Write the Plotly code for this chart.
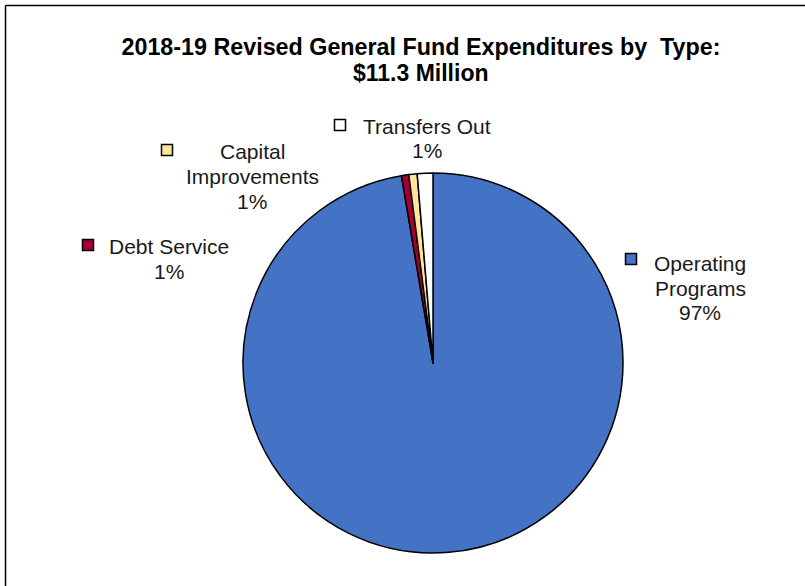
import plotly.graph_objects as go

# ---- dados (US$ milhões) ----
categories = ["Operating Programs", "Debt Service", "Capital Improvements", "Transfers Out"]
label_lines = [["Operating", "Programs"], ["Debt Service"], ["Capital", "Improvements"], ["Transfers Out"]]
amounts = [11.00, 0.07, 0.08, 0.15]
colors = ["#4472C4", "#A50034", "#FFE599", "#FFFFFF"]

TITLE_1 = "2018-19 Revised General Fund Expenditures by  Type:"
TITLE_2 = "$11.3 Million"

W, H = 805, 586
FONT = "Liberation Sans, Arial, sans-serif"
LINE_STEP = 24.5  # espaçamento entre linhas dos rótulos (px)

# posições dos rótulos em pixels: centro x do texto, centro y da 1a linha, centro da caixinha
label_pos = {
    "Operating Programs": (700, 263.5, 631, 259),
    "Debt Service": (169, 246.5, 88, 245),
    "Capital Improvements": (252, 152, 167, 150),
    "Transfers Out": (426.5, 126.5, 340, 125),
}


def px(x):
    return x / W


def py(y):
    return 1 - y / H


total = sum(amounts)
pct_text = [f"{round(v / total * 100):.0f}%" for v in amounts]

fig = go.Figure()
fig.add_trace(go.Pie(
    labels=categories,
    values=amounts,
    sort=False,
    direction="clockwise",
    rotation=0,
    marker=dict(colors=colors, line=dict(color="#000000", width=1.5)),
    textinfo="none",
    hoverinfo="label+value+percent",
    showlegend=False,
    domain=dict(x=[px(243), px(623)], y=[py(553), py(173)]),
))

shapes = [
    # moldura (só topo e esquerda aparecem)
    dict(type="line", xref="paper", yref="paper", x0=px(5.5), x1=1, y0=py(5.5), y1=py(5.5),
         line=dict(color="#000000", width=1.5)),
    dict(type="line", xref="paper", yref="paper", x0=px(5.5), x1=px(5.5), y0=py(5.5), y1=0,
         line=dict(color="#000000", width=1.5)),
]
annotations = [
    dict(x=px(421), y=py(73), xref="paper", yref="paper", xanchor="center", yanchor="middle",
         showarrow=False, text=TITLE_2,
         font=dict(family=FONT, size=23, color="#000000", weight="bold")),
]
for cat, lines, pct, col in zip(categories, label_lines, pct_text, colors):
    tx, ty, mx, my = label_pos[cat]
    for i, line in enumerate(lines + [pct]):
        annotations.append(dict(
            x=px(tx), y=py(ty + i * LINE_STEP), xref="paper", yref="paper",
            xanchor="center", yanchor="middle", showarrow=False,
            text=line,
            font=dict(family=FONT, size=21, color="#1a1a1a"),
        ))
    shapes.append(dict(
        type="rect", xref="paper", yref="paper",
        x0=px(mx - 5.5), x1=px(mx + 5.5), y0=py(my + 5.5), y1=py(my - 5.5),
        fillcolor=col, line=dict(color="#000000", width=1.5),
    ))

fig.update_layout(
    width=W, height=H,
    margin=dict(l=0, r=0, t=0, b=0),
    paper_bgcolor="#FFFFFF",
    plot_bgcolor="#FFFFFF",
    title=dict(
        text=TITLE_1, x=px(421), xanchor="center", y=py(47), yanchor="middle",
        font=dict(family=FONT, size=23.3, color="#000000", weight="bold"),
    ),
    shapes=shapes,
    annotations=annotations,
)

# tira a margem padrão do <body> para a figura começar no canto (0, 0)
fig.write_html("out.html", config={"displayModeBar": False},
               post_script="document.body.style.margin='0';")
